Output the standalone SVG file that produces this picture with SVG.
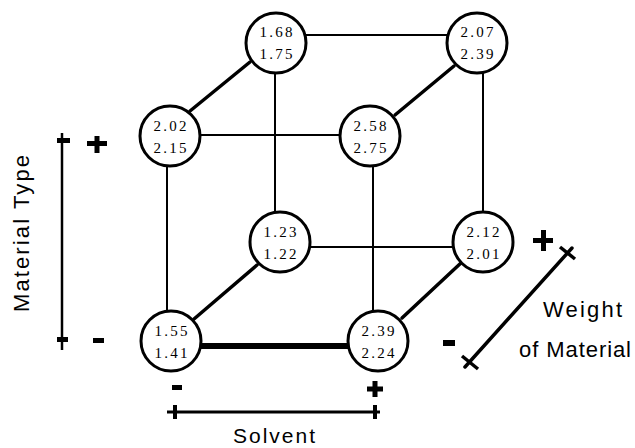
<svg xmlns="http://www.w3.org/2000/svg" width="635" height="448" viewBox="0 0 635 448">
<style>
.node circle{fill:#fff;stroke:#000;stroke-width:3}
.num{font-family:"Liberation Serif","DejaVu Serif",serif;font-size:15px;fill:#000;text-anchor:middle}
.thin{stroke:#000;stroke-width:2;fill:none}
.diag{stroke:#000;stroke-width:3.5;fill:none;stroke-linecap:round}
.lbl{font-family:"Liberation Sans","DejaVu Sans",sans-serif;font-size:22px;fill:#000}
.sign{stroke:#000;stroke-width:5;fill:none}
</style>
<rect width="635" height="448" fill="#fff"/>
<g id="connectors">
<line class="thin" x1="306" y1="35" x2="447" y2="35"/>
<line class="thin" x1="200" y1="135" x2="340" y2="135"/>
<line class="thin" x1="310" y1="247" x2="453" y2="247"/>
<line x1="201" y1="346" x2="348" y2="346" stroke="#000" stroke-width="6"/>
<line class="thin" x1="275" y1="72" x2="275" y2="213"/>
<line class="thin" x1="167" y1="166" x2="167" y2="311"/>
<line class="thin" x1="373" y1="166" x2="373" y2="311"/>
<line class="thin" x1="483" y1="72" x2="483" y2="213"/>
<line class="diag" x1="190" y1="111" x2="250" y2="62"/>
<line class="diag" x1="395" y1="115" x2="454" y2="66"/>
<line class="diag" x1="194" y1="319" x2="257" y2="265"/>
<line class="diag" x1="402" y1="318" x2="462" y2="262"/>
</g>
<g id="n1" class="node"><circle cx="276" cy="43" r="30"/><text class="num" x="276" y="37" textLength="33" lengthAdjust="spacing">1.68</text><text class="num" x="276" y="59" textLength="33" lengthAdjust="spacing">1.75</text></g>
<g id="n2" class="node"><circle cx="477" cy="43" r="30"/><text class="num" x="477" y="37" textLength="33" lengthAdjust="spacing">2.07</text><text class="num" x="477" y="59" textLength="33" lengthAdjust="spacing">2.39</text></g>
<g id="n3" class="node"><circle cx="170" cy="136" r="30"/><text class="num" x="170" y="131" textLength="33" lengthAdjust="spacing">2.02</text><text class="num" x="170" y="153" textLength="33" lengthAdjust="spacing">2.15</text></g>
<g id="n4" class="node"><circle cx="370" cy="136" r="30"/><text class="num" x="370" y="131" textLength="33" lengthAdjust="spacing">2.58</text><text class="num" x="370" y="153" textLength="33" lengthAdjust="spacing">2.75</text></g>
<g id="n5" class="node"><circle cx="280" cy="242" r="30"/><text class="num" x="280" y="237" textLength="33" lengthAdjust="spacing">1.23</text><text class="num" x="280" y="259" textLength="33" lengthAdjust="spacing">1.22</text></g>
<g id="n6" class="node"><circle cx="483" cy="242" r="30"/><text class="num" x="483" y="237" textLength="33" lengthAdjust="spacing">2.12</text><text class="num" x="483" y="259" textLength="33" lengthAdjust="spacing">2.01</text></g>
<g id="n7" class="node"><circle cx="171" cy="341" r="30"/><text class="num" x="171" y="336" textLength="33" lengthAdjust="spacing">1.55</text><text class="num" x="171" y="358" textLength="33" lengthAdjust="spacing">1.41</text></g>
<g id="n8" class="node"><circle cx="378" cy="341" r="30"/><text class="num" x="378" y="336" textLength="33" lengthAdjust="spacing">2.39</text><text class="num" x="378" y="358" textLength="33" lengthAdjust="spacing">2.24</text></g>
<g id="axis-material">
<line x1="62" y1="133" x2="62" y2="350" stroke="#000" stroke-width="2.5"/>
<rect x="57" y="138" width="13" height="5"/>
<rect x="57" y="337" width="11" height="5"/>
<path class="sign" d="M87 143.5H107M97 136V153"/>
<rect x="93" y="338" width="11" height="5"/>
<text class="lbl" transform="translate(29,312) rotate(-90)" textLength="157" lengthAdjust="spacing">Material  Type</text>
</g>
<g id="axis-solvent">
<line x1="167" y1="412" x2="380" y2="412" stroke="#000" stroke-width="3"/>
<line x1="175" y1="405" x2="175" y2="419" stroke="#000" stroke-width="4"/>
<line x1="375" y1="405" x2="375" y2="419" stroke="#000" stroke-width="4"/>
<rect x="172" y="385" width="10" height="5"/>
<path class="sign" d="M367 389H383M375 381V397"/>
<text class="lbl" x="233" y="443" style="font-size:21px" textLength="82" lengthAdjust="spacing">Solvent</text>
</g>
<g id="axis-weight">
<line x1="465" y1="367" x2="572" y2="248" stroke="#000" stroke-width="3.5" stroke-linecap="round"/>
<line x1="462" y1="356" x2="478" y2="369" stroke="#000" stroke-width="3.5"/>
<line x1="560" y1="247" x2="575" y2="259" stroke="#000" stroke-width="3.5"/>
<path class="sign" d="M533 240.5H553M543.5 230V251"/>
<rect x="443" y="340" width="12" height="6"/>
<text class="lbl" x="543" y="317" textLength="79" lengthAdjust="spacing">Weight</text>
<text class="lbl" x="519" y="357" textLength="112" lengthAdjust="spacing">of Material</text>
</g>
</svg>
